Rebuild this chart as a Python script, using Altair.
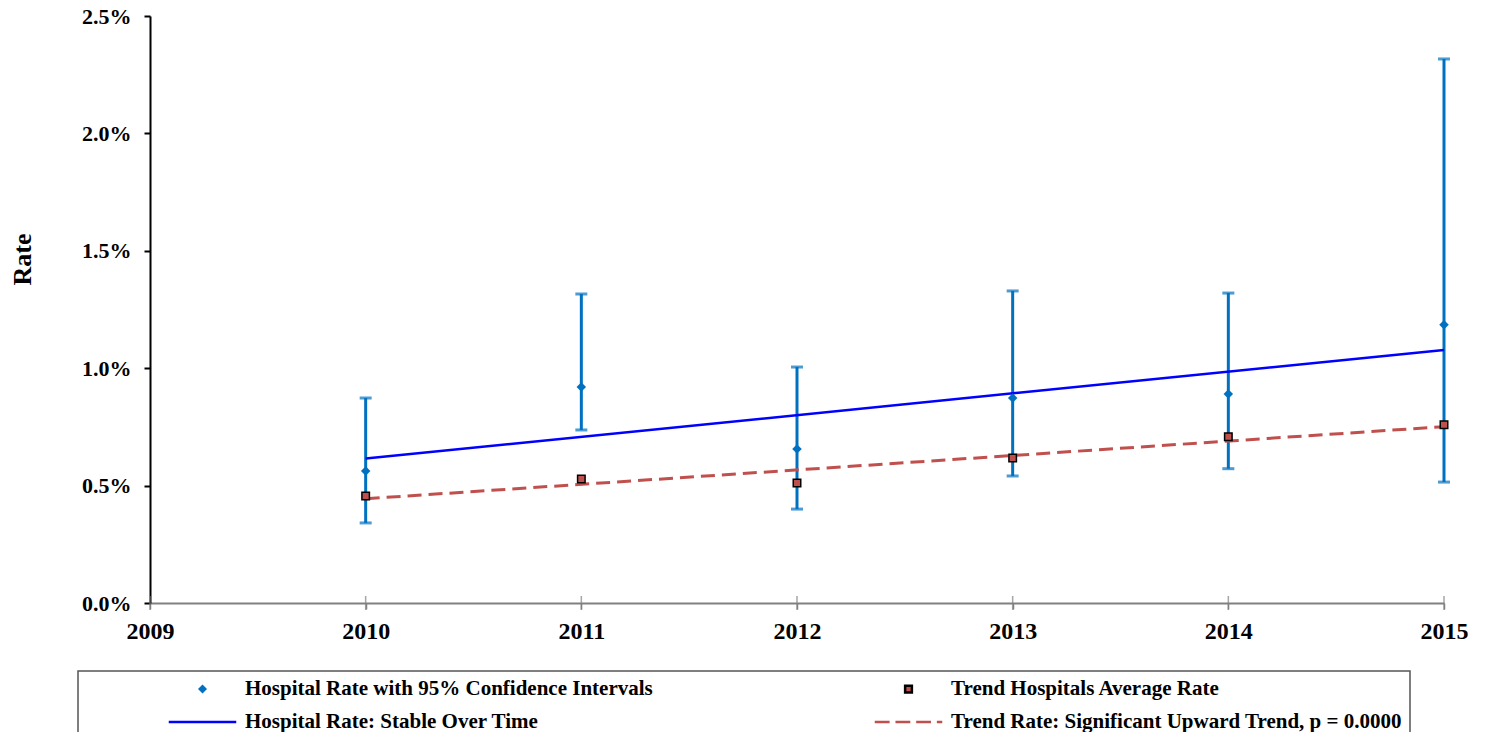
import altair as alt
import pandas as pd

# ---- data ----
years = [2010, 2011, 2012, 2013, 2014, 2015]
hospital_rate = [0.00562, 0.00920, 0.00656, 0.00873, 0.00890, 0.01185]
ci_lower = [0.00341, 0.00737, 0.00400, 0.00541, 0.00572, 0.00515]
ci_upper = [0.00873, 0.01316, 0.01005, 0.01329, 0.01320, 0.02317]
trend_avg = [0.00456, 0.00528, 0.00511, 0.00618, 0.00708, 0.00759]

fit_years = [2010, 2015]
hospital_fit = [0.00615, 0.01078]
trend_fit = [0.00444, 0.00751]

series_names = [
    "Hospital Rate with 95% Confidence Intervals",
    "Trend Hospitals Average Rate",
    "Hospital Rate: Stable Over Time",
    "Trend Rate: Significant Upward Trend, p = 0.0000",
]
series_fill = ["#0070C0", "#C0504D", "#0000FF", "#C0504D"]
series_stroke = ["transparent", "black", "#0000FF", "#C0504D"]

x_ticks = [2009, 2010, 2011, 2012, 2013, 2014, 2015]
y_ticks = [0.0, 0.005, 0.010, 0.015, 0.020, 0.025]

FONT = "Times New Roman, Liberation Serif, serif"

# symbol shapes (markers + legend); the two lines appear in the legend as path symbols
DIAMOND = "diamond"
SQUARE = "M-0.75,-0.75H0.75V0.75H-0.75Z"
SOLID = "M-7.5,0H7.5"
DASHED = "M-7.5,0H-4.2M-2.9,0H0.4M1.7,0H5M6.3,0H7.5"

# ---- tables ----
ci = pd.DataFrame({"year": years, "lo": ci_lower, "hi": ci_upper})
markers = pd.DataFrame({
    "year": years * 2,
    "value": hospital_rate + trend_avg,
    "series": [series_names[0]] * len(years) + [series_names[1]] * len(years),
})
fit = pd.DataFrame({
    "year": fit_years * 2,
    "value": hospital_fit + trend_fit,
    "series": [series_names[2]] * 2 + [series_names[3]] * 2,
})
axis_ticks = pd.DataFrame({"year": x_ticks, "zero": [0.0] * len(x_ticks)})

PAD = "\u2003" * 5  # widens the right legend column so its box runs off the page

legend = alt.Legend(
    title=None,
    orient="none",
    direction="horizontal",
    legendX=-72,
    legendY=655,
    columns=2,
    padding=8,
    strokeColor="#555555",
    rowPadding=12,
    columnPadding=139,
    clipHeight=20,
    symbolSize=81,
    symbolStrokeWidth=2.5,
    symbolStrokeColor="black",
    symbolOpacity=1,
    symbolOffset=106,
    labelOffset=32,
    labelFont=FONT,
    labelFontSize=21,
    labelFontWeight="bold",
    labelColor="black",
    labelLimit=1000,
    labelExpr="indexof(datum.label, 'Trend') == 0 ? datum.label + '" + PAD + "' : datum.label",
)

color_scale = alt.Scale(domain=series_names, range=series_fill)
stroke_scale = alt.Scale(domain=series_names, range=series_stroke)
shape_scale = alt.Scale(domain=series_names, range=[DIAMOND, SQUARE, SOLID, DASHED])
size_scale = alt.Scale(domain=series_names[:2], range=[90, 100])

x_enc = alt.X(
    "year:Q",
    scale=alt.Scale(domain=[2009, 2015], nice=False, zero=False),
    axis=alt.Axis(values=x_ticks, format="d", title=None, labelFlush=False),
)
y_scale = alt.Scale(domain=[0, 0.025], nice=False)

err = alt.Chart(ci).mark_rule(color="#0070C0", strokeWidth=3).encode(
    x=x_enc,
    y=alt.Y("lo:Q", scale=y_scale,
            axis=alt.Axis(values=y_ticks, format=".1%", title="Rate",
                          titleX=-128, titleY=243, titleAngle=270,
                          titleAlign="center", titleBaseline="middle")),
    y2="hi:Q",
)
cap_lo = alt.Chart(ci).mark_tick(color="#0070C0", orient="horizontal", size=12, thickness=3).encode(
    x=x_enc, y=alt.Y("lo:Q", scale=y_scale))
cap_hi = alt.Chart(ci).mark_tick(color="#0070C0", orient="horizontal", size=12, thickness=3).encode(
    x=x_enc, y=alt.Y("hi:Q", scale=y_scale))

# x-axis tick marks that cross the axis line
cross_ticks = alt.Chart(axis_ticks).mark_tick(
    color="#808080", orient="vertical", size=14, thickness=1.5
).encode(x=x_enc, y=alt.Y("zero:Q", scale=y_scale))

blue_line = alt.Chart(fit).transform_filter(
    alt.datum.series == series_names[2]
).mark_line(strokeWidth=2.5, color=series_fill[2]).encode(
    x=x_enc,
    y=alt.Y("value:Q", scale=y_scale),
)
red_line = alt.Chart(fit).transform_filter(
    alt.datum.series == series_names[3]
).mark_line(strokeWidth=3, strokeDash=[14, 7], color=series_fill[3]).encode(
    x=x_enc,
    y=alt.Y("value:Q", scale=y_scale),
)

points = alt.Chart(markers).mark_point(filled=True, opacity=1, strokeWidth=1.5).encode(
    x=x_enc,
    y=alt.Y("value:Q", scale=y_scale),
    color=alt.Color("series:N", scale=color_scale, legend=legend, sort=series_names),
    stroke=alt.Stroke("series:N", scale=stroke_scale, legend=legend, sort=series_names),
    shape=alt.Shape("series:N", scale=shape_scale, legend=legend, sort=series_names),
    size=alt.Size("series:N", scale=size_scale, legend=None),
)

chart = alt.layer(err, cap_lo, cap_hi, cross_ticks, blue_line, red_line, points).properties(
    width=1294,
    height=587,
    autosize=alt.AutoSizeParams(type="none"),
    padding={"left": 142, "top": 8, "right": 45, "bottom": 129},
).configure_view(
    stroke="transparent"
).configure_axis(
    labelFont=FONT,
    labelFontWeight="bold",
    labelColor="black",
    titleFont=FONT,
    titleFontWeight="bold",
    titleColor="black",
    grid=False,
).configure_axisX(
    labelFontSize=24,
    domainColor="#808080",
    domainWidth=2,
    tickColor="#808080",
    tickWidth=1.5,
    tickSize=6,
    labelPadding=10,
).configure_axisY(
    labelFontSize=22,
    domainColor="black",
    domainWidth=2,
    tickColor="black",
    tickWidth=2,
    tickSize=6,
    labelPadding=13,
    titleFontSize=26,
).configure_legend(
    strokeWidth=1.5,
)

chart.save("out.html", embed_options={"renderer": "svg", "actions": False})
